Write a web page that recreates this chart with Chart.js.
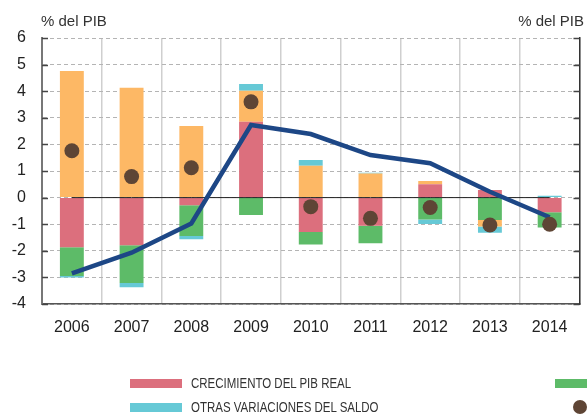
<!DOCTYPE html>
<html>
<head>
<meta charset="utf-8">
<script src="https://cdn.jsdelivr.net/npm/chart.js@4/dist/chart.umd.min.js"></script>
<style>
    body { margin: 0; background: #fff; overflow: hidden; }
    #wrap { position: relative; width: 587px; height: 415px; overflow: hidden; }
    #chart { position: absolute; left: 0; top: 0; }
    .unit { position: absolute; top: 12px; font: 15px "Liberation Sans", Arial, sans-serif; color: #333; white-space: nowrap; }
    .leg { position: absolute; font: 14px "Liberation Sans", Arial, sans-serif; color: #333; white-space: nowrap; line-height: 16px; transform: scaleX(0.82); transform-origin: left center; }
    .sw { position: absolute; width: 52px; height: 9px; }
    .dot { position: absolute; width: 14px; height: 14px; border-radius: 50%; background: #5e4535; }
</style>
</head>
<body>
<div id="wrap">
    <canvas id="chart" width="587" height="415"></canvas>
    <div class="unit" style="left:41px">% del PIB</div>
    <div class="unit" style="right:3px">% del PIB</div>

    <div class="sw" style="left:130px; top:379px; background:#dc6f7d"></div>
    <div class="leg" style="left:191px; top:375px">CRECIMIENTO DEL PIB REAL</div>
    <div class="sw" style="left:130px; top:403px; background:#66c9d6"></div>
    <div class="leg" style="left:191px; top:399px">OTRAS VARIACIONES DEL SALDO</div>
    <div class="sw" style="left:555px; top:379px; background:#5dbb68"></div>
    <div class="dot" style="left:573px; top:400px"></div>
</div>
<script>
const years = ["2006", "2007", "2008", "2009", "2010", "2011", "2012", "2013", "2014"];
const yTicks = [-4, -3, -2, -1, 0, 1, 2, 3, 4, 5, 6];

// bar segments (stacked)
const pibReal = [-1.87, -1.79, -0.29, 2.85, -1.29, -1.06, 0.50, 0.29, -0.55];
const verde = [-1.08, -1.42, -1.15, -0.65, -0.47, -0.66, -0.82, -0.84, -0.57];
const naranja = [4.76, 4.13, 2.69, 1.17, 1.20, 0.91, 0.12, -0.25, 0];
const otrasVar = [-0.05, -0.16, -0.13, 0.25, 0.21, 0.02, -0.17, -0.23, 0.07];

// dots and line
const puntos = [1.76, 0.79, 1.12, 3.60, -0.34, -0.78, -0.37, -1.03, -1.00];
const linea = [-2.85, -2.07, -0.97, 2.73, 2.39, 1.60, 1.29, 0.22, -0.74];
const cero = [0, 0, 0, 0, 0, 0, 0, 0, 0];

const barStyle = {
    type: "bar",
    order: 3,
    borderWidth: 0,
    barPercentage: 0.4,
    categoryPercentage: 1,
};

// inward tick marks on both y axes
const innerTicks = {
    id: "innerTicks",
    afterDraw(chart) {
        const c = chart.ctx;
        const y = chart.scales.y;
        const a = chart.chartArea;
        c.save();
        c.lineWidth = 1.5;
        c.strokeStyle = "#444";
        yTicks.forEach((v) => {
            const py = Math.round(y.getPixelForValue(v)) + 0.5;
            c.beginPath();
            c.moveTo(a.left, py);
            c.lineTo(a.left + 6, py);
            c.moveTo(a.right, py);
            c.lineTo(a.right - 6, py);
            c.stroke();
        });
        c.restore();
    },
};

const ctx = document.getElementById("chart").getContext("2d");
new Chart(ctx, {
    data: {
        labels: years,
        datasets: [
            { ...barStyle, label: "CRECIMIENTO DEL PIB REAL", data: pibReal, backgroundColor: "#dc6f7d" },
            { ...barStyle, label: "verde", data: verde, backgroundColor: "#5dbb68" },
            { ...barStyle, label: "naranja", data: naranja, backgroundColor: "#fdb865" },
            { ...barStyle, label: "OTRAS VARIACIONES DEL SALDO", data: otrasVar, backgroundColor: "#66c9d6" },
            {
                type: "line",
                label: "cero",
                data: cero,
                stack: "cero",
                order: 2,
                borderColor: "#222",
                borderWidth: 1,
                pointRadius: 0,
            },
            {
                type: "line",
                label: "linea",
                data: linea,
                stack: "linea",
                order: 1,
                borderColor: "#1d4786",
                borderWidth: 4.5,
                pointRadius: 0,
                tension: 0,
            },
            {
                type: "line",
                label: "puntos",
                data: puntos,
                stack: "puntos",
                order: 0,
                showLine: false,
                pointRadius: 7.5,
                pointBackgroundColor: "#5e4535",
                pointBorderWidth: 0,
            },
        ],
    },
    options: {
        responsive: false,
        animation: false,
        devicePixelRatio: 1,
        layout: { padding: { top: 38, left: 0, right: 0, bottom: 0 } },
        plugins: { legend: { display: false }, tooltip: { enabled: false } },
        scales: {
            x: {
                stacked: true,
                offset: true,
                grid: { offset: true, color: "#cfcfcf", lineWidth: 1.5, drawTicks: false },
                border: { display: true, color: "#555", width: 1.5 },
                ticks: { color: "#222", padding: 14, font: { family: "'Liberation Sans', Arial", size: 16 } },
                afterFit(scale) {
                    scale.height = 111;
                    scale.paddingLeft = 0;
                    scale.paddingRight = 0;
                },
            },
            y: {
                stacked: true,
                min: -4,
                max: 6,
                ticks: { stepSize: 1, color: "#222", padding: 16, font: { family: "'Liberation Sans', Arial", size: 16 } },
                grid: { color: "#b4b4b4", lineWidth: 1, drawTicks: false },
                border: { display: true, color: "#777", width: 2, dash: [4, 3] },
                afterFit(scale) {
                    scale.width = 42;
                    scale.paddingTop = 0;
                    scale.paddingBottom = 0;
                },
            },
            y2: {
                position: "right",
                min: -4,
                max: 6,
                ticks: { display: false, stepSize: 1 },
                grid: { drawOnChartArea: false, drawTicks: false },
                border: { display: true, color: "#333", width: 1.5 },
                afterFit(scale) {
                    scale.width = 2;
                    scale.paddingTop = 0;
                    scale.paddingBottom = 0;
                },
            },
        },
    },
    plugins: [innerTicks],
});
</script>
</body>
</html>
